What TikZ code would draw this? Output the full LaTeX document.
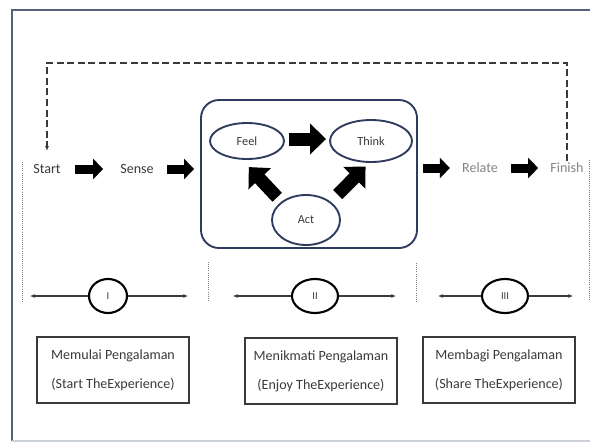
\documentclass[tikz,border=0pt]{standalone}
\usepackage{fontspec}
\setmainfont{Carlito}
\usepackage{xcolor}
\usetikzlibrary{arrows.meta,shapes.geometric}
\definecolor{framegray}{HTML}{56627C}
\definecolor{navy}{HTML}{2E3B5E}
\definecolor{textgray}{HTML}{3A3A3A}
\definecolor{lightgray}{HTML}{858585}

\begin{document}
\begin{tikzpicture}[x=0.03cm,y=-0.03cm,
  stage/.style={inner sep=0pt, minimum width=0.9cm, minimum height=0.42cm,
    font=\fontsize{12}{13}\selectfont, text=textgray},
  blockarrow/.style={line width=0.27cm, -{Triangle[length=0.3cm,width=0.6cm]}},
  bigarrow/.style={line width=0.39cm, -{Triangle[length=0.48cm,width=0.9cm]}},
  sense ellipse/.style={ellipse, draw=navy, line width=1.6pt, inner sep=0pt,
    font=\fontsize{10.5}{12}\selectfont, text=textgray},
  phase/.style={ellipse, draw=black, line width=1.8pt, inner sep=0pt,
    minimum height=1.02cm, font=\fontsize{9}{10}\selectfont, text=textgray},
  phaseline/.style={draw=textgray, line width=0.9pt, -{Latex[length=4pt,width=3.5pt]}},
  divider/.style={draw=gray, line width=0.8pt, densely dotted},
  descbox/.style={draw=textgray, line width=1.1pt, minimum width=4.56cm,
    minimum height=1.98cm, align=center, text=textgray,
    font=\fontsize{12}{14}\selectfont}]
\useasboundingbox (0,0) rectangle (590,443);
\clip (0,0) rectangle (590,443);
%\draw[help lines,step=1cm] (0,0) grid (590,443);

% outer frame
\draw[framegray, line width=2.3pt] (12,441) -- (12,10) -- (600,10);
\draw[framegray!30, line width=1pt] (12,441) -- (600,441);

% stages
\node[stage] (start) at (47,169) {Start};
\node[stage] (sense) at (137,169) {Sense};
\node[stage, text=lightgray] (relate) at (480,168) {Relate};
\node[stage, text=lightgray] (finish) at (567,168) {Finish};

% experience panel
\node[draw=navy, line width=1.6pt, rounded corners=0.54cm,
  minimum width=6.48cm, minimum height=4.44cm] (panel) at (309,174) {};
\node[sense ellipse, minimum width=2.22cm, minimum height=1.08cm] (feel) at (247,141) {Feel};
\node[sense ellipse, minimum width=2.46cm, minimum height=1.26cm] (think) at (371,141) {Think};
\node[sense ellipse, minimum width=2.04cm, minimum height=1.5cm] (act) at (306,220) {Act};

\draw[blockarrow, shorten <=0.39cm, shorten >=0.51cm] (start) -- (sense);
\draw[blockarrow, shorten <=0.39cm, shorten >=0.18cm] (sense) -- (sense -| panel.west);
\draw[blockarrow, shorten <=0.15cm, shorten >=0.36cm] (panel.east |- relate) -- (relate);
\draw[blockarrow, shorten <=0.39cm, shorten >=0.36cm] (relate) -- (finish);

\draw[bigarrow, shorten <=0.12cm, shorten >=0.09cm] ([yshift=0.06cm]feel.east) -- ([yshift=0.06cm]feel.east -| think.west);
\draw[bigarrow, shorten <=0.18cm, shorten >=0.3cm] (act.north west) -- (feel.-105);
\draw[bigarrow, shorten <=0.3cm, shorten >=0.15cm] (act.north east) -- (think.-95);

% loop back
\coordinate (looptop) at (0,63);
\draw[textgray, line width=0.9pt, dash pattern=on 6pt off 3pt,
  -{Latex[length=4pt,width=3.5pt]}, shorten >=0.33cm]
  (finish.north) -- (finish.north |- looptop) -| (start.north);

% dividers
\draw[divider] (22,162) -- (22,303);
\draw[divider] (208,262) -- (208,300);
\draw[divider] (416,263) -- (416,301);
\draw[divider] (589,160) -- (589,300);

% phases
\node[phase, minimum width=1.14cm] (ph1) at (108,296) {I};
\node[phase, minimum width=1.38cm] (ph2) at (315,296) {II};
\node[phase, minimum width=1.38cm] (ph3) at (505,296) {III};
\coordinate (l1) at (30,296);  \coordinate (r1) at (188,296);
\coordinate (l2) at (233,296); \coordinate (r2) at (396,296);
\coordinate (l3) at (438,296); \coordinate (r3) at (573,296);
\foreach \i in {1,2,3}{
  \draw[phaseline] (ph\i) -- (l\i);
  \draw[phaseline] (ph\i) -- (r\i);
}

% descriptions
\node[descbox] (desc1) at (113,370) {Memulai Pengalaman\\[0.38cm](Start TheExperience)};
\node[descbox] (desc2) at (321,371) {Menikmati Pengalaman\\[0.38cm](Enjoy TheExperience)};
\node[descbox] (desc3) at (499,370) {Membagi Pengalaman\\[0.38cm](Share TheExperience)};
\end{tikzpicture}
\end{document}
